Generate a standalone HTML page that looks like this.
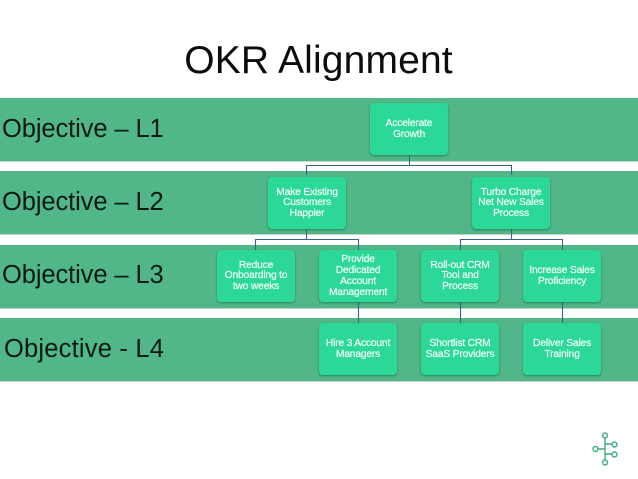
<!DOCTYPE html>
<html><head><meta charset="utf-8"><style>
html,body{margin:0;padding:0;background:#fff}
#p{position:relative;width:638px;height:479px;overflow:hidden;background:#fff;font-family:"Liberation Sans",sans-serif}
.b{position:absolute;left:0;width:638px;height:63px;background:#52b788;border-bottom:1px solid #c4d0ca;box-sizing:content-box}
.l{position:absolute;font-size:25.5px;color:#0a1a10;white-space:nowrap;line-height:30px;letter-spacing:-.1px}
.n{position:absolute;width:78px;height:52px;background:#2cd897;border-radius:4px;box-shadow:0 1px 2px rgba(20,90,60,.6);color:#f2fff8;font-size:10.3px;line-height:10.7px;text-align:center;display:flex;align-items:center;justify-content:center;letter-spacing:-.2px;-webkit-text-stroke:.2px #f2fff8}
.n span{position:relative;top:.8px}
svg{position:absolute;left:0;top:0}
#t{position:absolute;left:0;top:39px;width:637px;text-align:center;font-size:39px;line-height:44px;color:#0c0c0c;letter-spacing:.15px}
</style></head><body><div id="p">
<div id="t">OKR Alignment</div>
<div class="b" style="top:98px"></div>
<div class="b" style="top:171px"></div>
<div class="b" style="top:245px"></div>
<div class="b" style="top:318px"></div>
<div class="l" style="left:2px;top:114px">Objective – L1</div>
<div class="l" style="left:2px;top:187px">Objective – L2</div>
<div class="l" style="left:2px;top:260px">Objective – L3</div>
<div class="l" style="left:4px;top:334px;letter-spacing:.2px">Objective - L4</div>
<svg width="638" height="479" fill="none" stroke="#3a6488" stroke-width="1.1">
<path d="M409.5 155V165.5M306.5 175V165.5H511.5V175M306.5 228V239.5M255.5 250V239.5H358.5V250M511.5 228V239.5M460.5 250V239.5H562.5V250M358.5 302V323M460.5 302V323M562.5 302V323"/>
</svg>
<div class="n" style="left:370px;top:103px"><span>Accelerate<br>Growth</span></div>
<div class="n" style="left:268px;top:177px"><span>Make Existing<br>Customers<br>Happier</span></div>
<div class="n" style="left:472px;top:177px"><span>Turbo Charge<br>Net New Sales<br>Process</span></div>
<div class="n" style="left:217px;top:250px"><span>Reduce<br>Onboarding to<br>two weeks</span></div>
<div class="n" style="left:319px;top:250px"><span>Provide<br>Dedicated<br>Account<br>Management</span></div>
<div class="n" style="left:421px;top:250px"><span>Roll-out CRM<br>Tool and<br>Process</span></div>
<div class="n" style="left:523px;top:250px"><span>Increase Sales<br>Proficiency</span></div>
<div class="n" style="left:319px;top:323px"><span>Hire 3 Account<br>Managers</span></div>
<div class="n" style="left:421px;top:323px"><span>Shortlist CRM<br>SaaS Providers</span></div>
<div class="n" style="left:523px;top:323px"><span>Deliver Sales<br>Training</span></div>
<svg width="638" height="479" fill="#fff" stroke="#3fae7f" stroke-width="1.4">
<path d="M605 438V463M596 449H605M605 444H614M605 454H614"/>
<circle cx="605" cy="435.5" r="2.5"/><circle cx="605" cy="462.5" r="2.5"/><circle cx="595.5" cy="449" r="2.5"/><circle cx="614.5" cy="444.5" r="2.5"/><circle cx="614.5" cy="454.5" r="2.5"/>
</svg>
</div></body></html>
